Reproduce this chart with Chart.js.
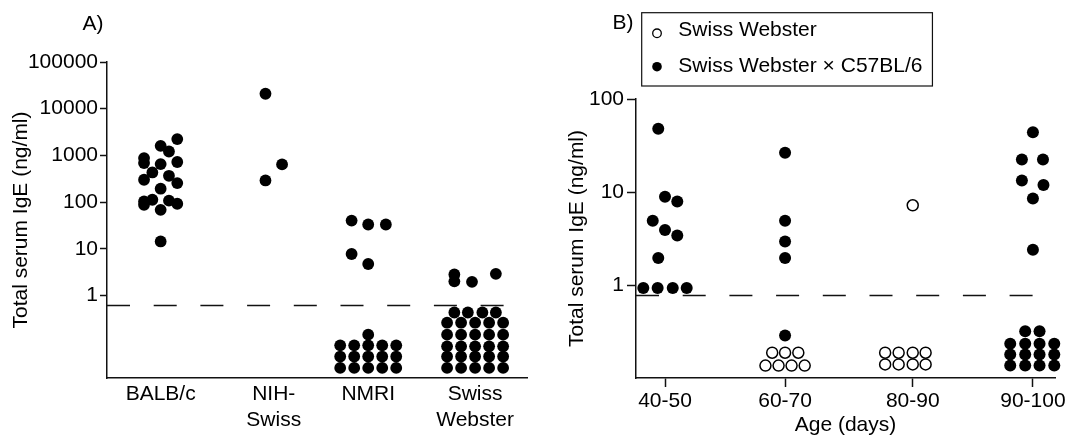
<!DOCTYPE html>
<html>
<head>
<meta charset="utf-8">
<title>Total serum IgE</title>
<script src="https://cdn.jsdelivr.net/npm/chart.js@4.4.1/dist/chart.umd.min.js"></script>
<style>
  html, body { margin: 0; padding: 0; background: #fff; }
  #wrap { position: relative; width: 1070px; height: 441px; overflow: hidden; }
  canvas { position: absolute; top: 0; }
  #strainChart { left: 0; }
  #ageChart { left: 535px; }
</style>
</head>
<body>
<div id="wrap">
  <canvas id="strainChart" width="535" height="441"></canvas>
  <canvas id="ageChart" width="535" height="441"></canvas>
</div>
<script>
// ---------- A) IgE by mouse strain ----------
const strains = ['BALB/c', ['NIH-', 'Swiss'], 'NMRI', ['Swiss', 'Webster']];
const strainX = [1, 2.09, 3, 4.03];
const strainTicksY = [1, 10, 100, 1000, 10000, 100000];
const strainCutoff = 0.61;

// spread = sideways offset of each dot inside its column
const balbcSpread = [0.16, 0, 0.08, -0.16, -0.16, 0, 0.16, -0.08, -0.16, 0.08, 0.16, 0, -0.16, -0.16, -0.08, 0.08, 0.16, 0, 0];
const balbcIgE = [2230, 1600, 1210, 875, 685, 650, 720, 430, 300, 365, 255, 193, 103, 87, 112, 107, 92, 68, 14.3];

const nihSpread = [-0.08, -0.08, 0.08];
const nihIgE = [20900, 290, 640];

const nmriSpread = [-0.16, 0, 0.17, -0.16, 0,
  -0.27, -0.135, 0, 0.135, 0.27,
  -0.27, -0.135, 0, 0.135, 0.27,
  -0.27, -0.135, 0, 0.135, 0.27,
  0];
const nmriIgE = [40, 33, 33, 7.7, 4.7,
  0.085, 0.085, 0.085, 0.085, 0.085,
  0.049, 0.049, 0.049, 0.049, 0.049,
  0.028, 0.028, 0.028, 0.028, 0.028,
  0.144];

const websterSpread = [-0.2, -0.2, -0.03, 0.2,
  -0.2, -0.07, 0.07, 0.2,
  -0.27, -0.135, 0, 0.135, 0.27,
  -0.27, -0.135, 0, 0.135, 0.27,
  -0.27, -0.135, 0, 0.135, 0.27,
  -0.27, -0.135, 0, 0.135, 0.27,
  -0.27, -0.135, 0, 0.135, 0.27];
const websterIgE = [2.8, 2.0, 1.95, 2.9,
  0.43, 0.43, 0.43, 0.43,
  0.26, 0.26, 0.26, 0.26, 0.26,
  0.144, 0.144, 0.144, 0.144, 0.144,
  0.081, 0.081, 0.081, 0.081, 0.081,
  0.049, 0.049, 0.049, 0.049, 0.049,
  0.028, 0.028, 0.028, 0.028, 0.028];

// ---------- B) IgE by age ----------
const ageGroups = ['40-50', '60-70', '80-90', '90-100'];
const ageX = [0, 0.979, 2.02, 3];
const ageTicksY = [1, 10, 100];
const ageCutoff = 0.77;

// Swiss Webster x C57BL/6 (filled), one list per age group
const hybridSpread = [
  [-0.055, 0, 0.1, -0.1, 0, 0.1, -0.055, -0.177, -0.06, 0.063, 0.177],
  [0, 0, 0, 0, 0],
  [],
  [0, -0.09, 0.082, -0.09, 0.086, 0, 0,
    -0.063, 0.054,
    -0.185, -0.063, 0.054, 0.174,
    -0.185, -0.063, 0.054, 0.174,
    -0.185, -0.063, 0.054, 0.174]
];
const hybridIgE = [
  [48, 8.9, 7.9, 4.9, 3.9, 3.4, 1.95, 0.93, 0.93, 0.93, 0.93],
  [26.4, 4.9, 2.94, 1.95, 0.286],
  [],
  [44, 22.4, 22.4, 13.3, 11.9, 8.5, 2.39,
    0.319, 0.319,
    0.233, 0.233, 0.233, 0.233,
    0.179, 0.179, 0.179, 0.179,
    0.136, 0.136, 0.136, 0.136]
];

// Swiss Webster (open)
const swissSpread = [
  [],
  [-0.105, 0, 0.108, -0.16, -0.053, 0.053, 0.16],
  [0, -0.225, -0.115, 0, 0.105, -0.225, -0.115, 0, 0.105],
  []
];
const swissIgE = [
  [],
  [0.187, 0.187, 0.187, 0.136, 0.136, 0.136, 0.136],
  [7.2, 0.187, 0.187, 0.187, 0.187, 0.14, 0.14, 0.14, 0.14],
  []
];

const fontFamily = '"Liberation Sans", Arial, Helvetica, sans-serif';
const ink = '#111';
Chart.defaults.font.family = fontFamily;
Chart.defaults.font.size = 21;
Chart.defaults.color = '#000';

function columnPoints(centre, spread, values) {
  return values.map((v, i) => ({ x: centre + spread[i], y: v }));
}

function groupPoints(centres, spreads, values) {
  return centres.flatMap((c, i) => columnPoints(c, spreads[i], values[i]));
}

function filledDots(label, data, radius) {
  return {
    label: label,
    data: data,
    backgroundColor: '#000',
    borderColor: '#000',
    pointRadius: radius,
    pointHoverRadius: radius,
    pointBorderWidth: 0,
    clip: false
  };
}

function cutoffLine(y, xMin, xMax) {
  return {
    type: 'line',
    data: [{ x: xMin, y: y }, { x: xMax, y: y }],
    borderColor: ink,
    borderWidth: 1.5,
    borderDash: [23, 23.7],
    pointRadius: 0,
    fill: false
  };
}

// "A)" / "B)" panel tags
const panelTag = {
  id: 'panelTag',
  afterDraw(chart, args, opts) {
    const ctx = chart.ctx;
    ctx.save();
    ctx.font = '21px ' + fontFamily;
    ctx.fillStyle = '#000';
    ctx.textAlign = 'center';
    ctx.textBaseline = 'middle';
    ctx.fillText(opts.text, opts.x, opts.y);
    ctx.restore();
  }
};

// boxed legend, markers taken from the datasets
const boxLegend = {
  id: 'boxLegend',
  afterDraw(chart, args, opts) {
    const ctx = chart.ctx;
    const sets = chart.data.datasets.filter(d => d.label);
    ctx.save();
    ctx.font = '21px ' + fontFamily;
    ctx.textBaseline = 'alphabetic';
    let widest = 0;
    sets.forEach(d => { widest = Math.max(widest, ctx.measureText(d.label).width); });
    const width = opts.textX + widest + 10 - opts.left;
    ctx.strokeStyle = ink;
    ctx.lineWidth = 1.2;
    ctx.strokeRect(opts.left, opts.top, width, opts.height);
    sets.forEach((d, i) => {
      ctx.beginPath();
      ctx.arc(opts.markerX, opts.markerY[i], d.pointBorderWidth ? 4.3 : 4.8, 0, Math.PI * 2);
      if (d.pointBorderWidth) {
        ctx.fillStyle = '#fff';
        ctx.fill();
        ctx.lineWidth = 1.3;
        ctx.strokeStyle = '#000';
        ctx.stroke();
      } else {
        ctx.fillStyle = '#000';
        ctx.fill();
      }
      ctx.fillStyle = '#000';
      ctx.fillText(d.label, opts.textX, opts.baseline[i]);
    });
    ctx.restore();
  }
};

function logAxis(min, max, tickValues, width, tickLength, tickPad, titlePad) {
  return {
    type: 'logarithmic',
    min: min,
    max: max,
    afterBuildTicks: s => { s.ticks = tickValues.map(v => ({ value: v })); },
    afterFit: s => { s.width = width; },
    ticks: { callback: v => String(v), padding: tickPad },
    grid: { display: true, drawOnChartArea: false, drawTicks: true, tickLength: tickLength, tickColor: ink, tickWidth: 1.5 },
    border: { display: true, color: ink, width: 1.5 },
    title: { display: true, text: 'Total serum IgE (ng/ml)', padding: { top: titlePad, bottom: 0 } }
  };
}

// ---------- chart A ----------
const strainMin = 0.483, strainMax = 4.53;
new Chart(document.getElementById('strainChart'), {
  type: 'scatter',
  data: {
    datasets: [
      filledDots('', columnPoints(strainX[0], balbcSpread, balbcIgE), 5.9),
      filledDots('', columnPoints(strainX[1], nihSpread, nihIgE), 5.9),
      filledDots('', columnPoints(strainX[2], nmriSpread, nmriIgE), 5.9),
      filledDots('', columnPoints(strainX[3], websterSpread, websterIgE), 5.9),
      cutoffLine(strainCutoff, strainMin, strainMax)
    ]
  },
  options: {
    responsive: false,
    animation: false,
    events: [],
    layout: { padding: { left: 0, top: 62, right: 8, bottom: 0 } },
    plugins: {
      legend: { display: false },
      tooltip: { enabled: false },
      panelTag: { text: 'A)', x: 93, y: 24 }
    },
    scales: {
      x: {
        type: 'linear',
        min: strainMin,
        max: strainMax,
        afterBuildTicks: s => { s.ticks = strainX.map(v => ({ value: v })); },
        afterFit: s => { s.height = 63; },
        ticks: {
          callback: v => strains[strainX.indexOf(v)],
          padding: 4,
          autoSkip: false,
          maxRotation: 0
        },
        grid: { display: false, drawTicks: false },
        border: { display: true, color: ink, width: 1.5 }
      },
      y: logAxis(0.017, 100000, strainTicksY, 107, 7, 2, 9)
    }
  },
  plugins: [panelTag]
});

// ---------- chart B ----------
const ageMin = -0.2365, ageMax = 3.18;
const swissData = groupPoints(ageX, swissSpread, swissIgE);
const hybridData = groupPoints(ageX, hybridSpread, hybridIgE);

new Chart(document.getElementById('ageChart'), {
  type: 'scatter',
  data: {
    datasets: [
      {
        label: 'Swiss Webster',
        data: swissData,
        backgroundColor: '#fff',
        borderColor: '#000',
        pointRadius: 5.5,
        pointHoverRadius: 5.5,
        pointBorderWidth: 1.5,
        clip: false
      },
      filledDots('Swiss Webster \u00d7 C57BL/6', hybridData, 6),
      cutoffLine(ageCutoff, ageMin, ageMax)
    ]
  },
  options: {
    responsive: false,
    animation: false,
    events: [],
    layout: { padding: { left: 0, top: 99, right: 15, bottom: 0 } },
    plugins: {
      legend: { display: false },
      tooltip: { enabled: false },
      panelTag: { text: 'B)', x: 88, y: 23 },
      boxLegend: {
        left: 106.7, top: 12.7, height: 73.3,
        markerX: 122, markerY: [33.3, 66.7],
        textX: 143.3, baseline: [36, 71.5]
      }
    },
    scales: {
      x: {
        type: 'linear',
        min: ageMin,
        max: ageMax,
        afterBuildTicks: s => { s.ticks = ageX.map(v => ({ value: v })); },
        afterFit: s => { s.height = 63; },
        ticks: {
          callback: v => ageGroups[ageX.indexOf(v)],
          padding: 2,
          autoSkip: false,
          maxRotation: 0
        },
        grid: { display: true, drawOnChartArea: false, drawTicks: true, tickLength: 9, tickColor: ink, tickWidth: 1.5 },
        border: { display: true, color: ink, width: 1.5 },
        title: { display: true, text: 'Age (days)', padding: { top: 0, bottom: 3 } }
      },
      y: logAxis(0.1, 100, ageTicksY, 101, 9, 3, 30)
    }
  },
  plugins: [panelTag, boxLegend]
});
</script>
</body>
</html>
